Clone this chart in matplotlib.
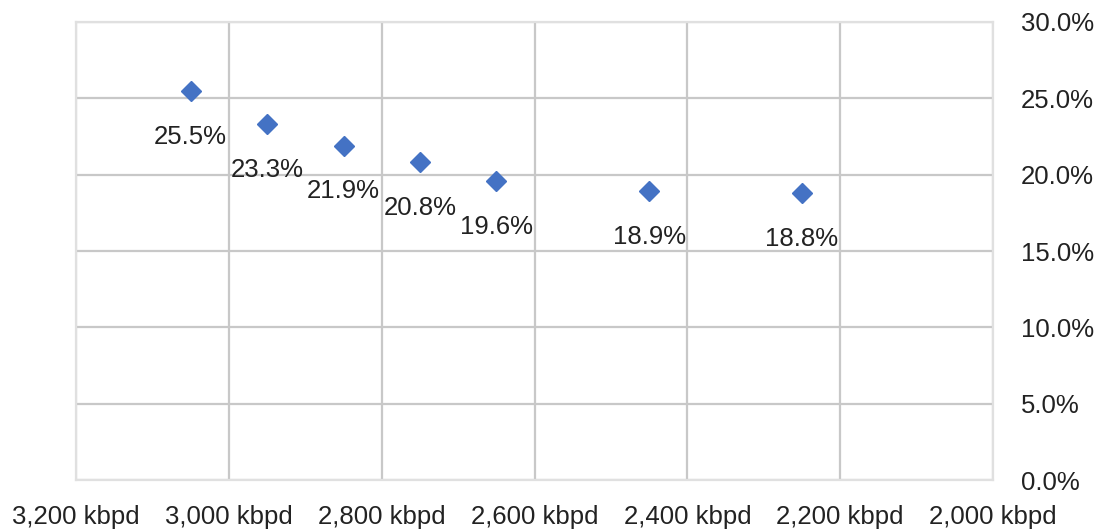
import matplotlib.pyplot as plt
from matplotlib.ticker import FuncFormatter

plt.rcParams['font.family'] = ['Liberation Sans', 'DejaVu Sans']

# Production (kbpd) vs share
production = [3050, 2950, 2850, 2750, 2650, 2450, 2250]
share = [25.5, 23.3, 21.9, 20.8, 19.6, 18.9, 18.8]
x_ticks = [3200, 3000, 2800, 2600, 2400, 2200, 2000]
y_ticks = [0, 5, 10, 15, 20, 25, 30]

fig = plt.figure(figsize=(10.99, 5.31), dpi=100)
ax = fig.add_axes([0.0692, 0.0960, 0.8344, 0.8626])

ax.plot(production, share, linestyle='none', marker='D',
        markersize=10, color='#4472C4', zorder=3)

for x, y in zip(production, share):
    ax.annotate(f'{y:.1f}%', (x, y), xytext=(0, -33), textcoords='offset points',
                ha='center', va='center', fontsize=18.5, color='#222222')

ax.set_xlim(3200, 2000)
ax.set_ylim(0, 30)
ax.set_xticks(x_ticks)
ax.set_yticks(y_ticks)
ax.xaxis.set_major_formatter(FuncFormatter(lambda v, p: f'{int(v):,} kbpd'))
ax.yaxis.set_major_formatter(FuncFormatter(lambda v, p: f'{v:.1f}%'))
ax.yaxis.tick_right()

ax.grid(True, color='#c8c8c8', linewidth=1.6)
ax.set_axisbelow(True)
for s in ax.spines.values():
    s.set_color('#e0e0e0')
    s.set_linewidth(1.6)

ax.tick_params(axis='both', length=0, labelsize=18.5, labelcolor='#222222')
ax.tick_params(axis='x', pad=18)
ax.tick_params(axis='y', pad=20)
for lbl in ax.get_yticklabels():
    lbl.set_horizontalalignment('left')

fig.savefig('out.png', dpi=100)
